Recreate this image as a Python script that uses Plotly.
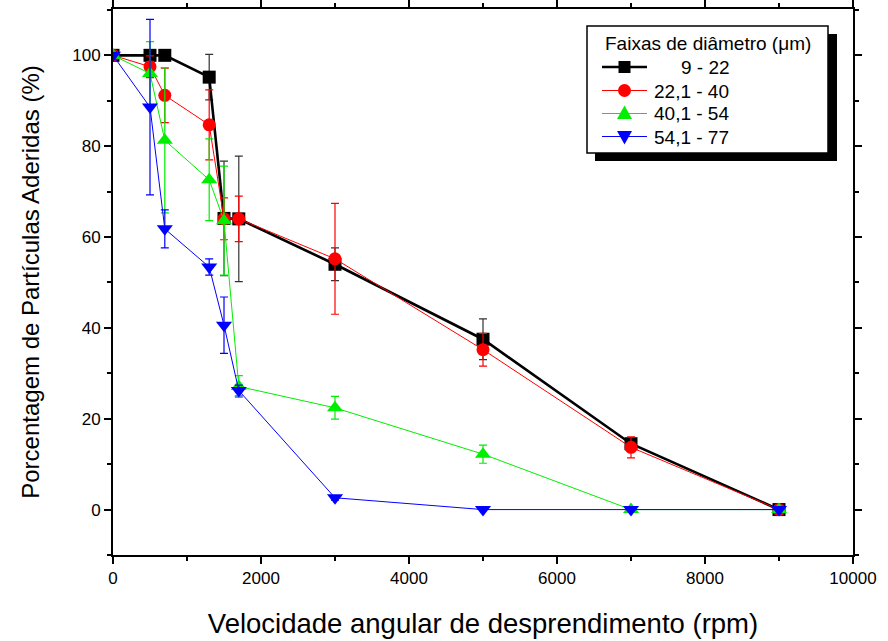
import plotly.graph_objects as go

rpm = [0, 500, 700, 1300, 1500, 1700, 3000, 5000, 7000, 9000]

labels = ["9 - 22", "22,1 - 40", "40,1 - 54", "54,1 - 77"]
legend_title = "Faixas de diâmetro (\u03bcm)"

y_9_22 = [100, 100, 100, 95.2, 64.1, 64.0, 54.0, 37.5, 14.5, 0]
e_9_22 = [0, 0, 0, 5.0, 12.6, 13.8, 3.6, 4.5, 1.0, 0]

y_22_40 = [100, 97.5, 91.2, 84.7, 64.0, 64.0, 55.2, 35.2, 13.7, 0]
e_22_40 = [0, 2.4, 6.0, 7.7, 4.6, 5.0, 12.2, 3.6, 2.3, 0]

y_40_54 = [100, 96.0, 81.3, 72.6, 63.6, 27.1, 22.4, 12.2, 0, 0]
e_40_54 = [0, 7.0, 16.0, 9.0, 12.0, 2.4, 2.5, 2.0, 0, 0]

y_54_77 = [100, 88.6, 61.8, 53.4, 40.6, 26.2, 2.6, 0, 0, 0]
e_54_77 = [0, 19.3, 4.2, 1.8, 6.2, 1.2, 0.5, 0, 0, 0]

series = [
    (labels[0], y_9_22, e_9_22, "#000000", "#333333", "square", 2.6, 13),
    (labels[1], y_22_40, e_22_40, "#ff0000", "#ff0000", "circle", 1, 13),
    (labels[2], y_40_54, e_40_54, "#00ee00", "#00ee00", "triangle-up", 1, 14),
    (labels[3], y_54_77, e_54_77, "#0000ff", "#0000ff", "triangle-down", 1, 14),
]

fig = go.Figure()
for name, ys, es, col, ecol, sym, lw, ms in series:
    fig.add_trace(go.Scatter(
        x=rpm, y=ys, name=name, mode="lines+markers",
        line=dict(color=col, width=lw),
        marker=dict(symbol=sym, size=ms, color=col),
        error_y=dict(type="data", array=es, visible=True, color=ecol,
                     thickness=1.2, width=4),
        showlegend=False,
    ))

L, R, T, B = 113, 35, 9, 86
W, H = 888, 641
pw, ph = W - L - R, H - T - B

def px(x):
    return (x - L) / pw

def py(y):
    return 1 - (y - T) / ph

font = "Liberation Sans, Arial, sans-serif"

# ---- custom legend box (with drop shadow) ----
shapes = []
annotations = []
shapes.append(dict(type="rect", xref="paper", yref="paper",
                   x0=px(595), x1=px(837), y0=py(161), y1=py(34),
                   fillcolor="black", line=dict(width=0), layer="above"))
shapes.append(dict(type="rect", xref="paper", yref="paper",
                   x0=px(587), x1=px(828), y0=py(153), y1=py(26),
                   fillcolor="white", line=dict(color="black", width=1.5), layer="above"))
annotations.append(dict(xref="paper", yref="paper", x=px(603), y=py(43.5),
                        xanchor="left", yanchor="middle", showarrow=False,
                        text=legend_title, font=dict(size=19, family=font, color="black")))

row_y = [67, 90.5, 113.5, 136.5]
text_x = [679, 652, 652, 652]
cx = 624.5
for (name, ys, es, col, ecol, sym, lw, ms), ry, tx in zip(series, row_y, text_x):
    shapes.append(dict(type="line", xref="paper", yref="paper",
                       x0=px(602), x1=px(647), y0=py(ry), y1=py(ry),
                       line=dict(color=col, width=lw), layer="above"))
    if sym == "square":
        shapes.append(dict(type="rect", xref="paper", yref="paper",
                           x0=px(cx - 6), x1=px(cx + 6), y0=py(ry + 6), y1=py(ry - 6),
                           fillcolor=col, line=dict(width=0), layer="above"))
    elif sym == "circle":
        shapes.append(dict(type="circle", xref="paper", yref="paper",
                           x0=px(cx - 6.5), x1=px(cx + 6.5), y0=py(ry + 6.5), y1=py(ry - 6.5),
                           fillcolor=col, line=dict(width=0), layer="above"))
    elif sym == "triangle-up":
        path = "M {},{} L {},{} L {},{} Z".format(
            px(cx - 7.5), py(ry + 5.5), px(cx + 7.5), py(ry + 5.5), px(cx), py(ry - 8))
        shapes.append(dict(type="path", xref="paper", yref="paper", path=path,
                           fillcolor=col, line=dict(width=0), layer="above"))
    else:
        path = "M {},{} L {},{} L {},{} Z".format(
            px(cx - 7.5), py(ry - 5.5), px(cx + 7.5), py(ry - 5.5), px(cx), py(ry + 8))
        shapes.append(dict(type="path", xref="paper", yref="paper", path=path,
                           fillcolor=col, line=dict(width=0), layer="above"))
    annotations.append(dict(xref="paper", yref="paper", x=px(tx), y=py(ry + 0.5),
                            xanchor="left", yanchor="middle", showarrow=False,
                            text=name, font=dict(size=19, family=font, color="black")))

fig.update_layout(
    width=W, height=H,
    margin=dict(l=L, r=R, t=T, b=B, autoexpand=False),
    paper_bgcolor="white", plot_bgcolor="white",
    font=dict(family=font, color="black", size=17),
    showlegend=False,
    shapes=shapes,
    annotations=annotations,
    xaxis=dict(
        range=[0, 10000], tickmode="array",
        tickvals=[0, 2000, 4000, 6000, 8000, 10000],
        ticktext=["0", "2000", "4000", "6000", "8000", "10000"],
        ticks="outside", ticklen=7, tickwidth=1.5, tickcolor="black",
        showline=True, linecolor="black", linewidth=2, mirror="ticks",
        showgrid=False, zeroline=False, automargin=False,
        minor=dict(dtick=1000, ticks="outside", ticklen=4, tickwidth=1.5, tickcolor="black"),
        tickfont=dict(size=17),
        title=dict(text="Velocidade angular de desprendimento (rpm)", font=dict(size=27.5), standoff=26),
    ),
    yaxis=dict(
        range=[-10, 110.2], tickmode="array",
        tickvals=[0, 20, 40, 60, 80, 100],
        ticks="outside", ticklen=7, tickwidth=1.5, tickcolor="black",
        showline=True, linecolor="black", linewidth=2, mirror="ticks",
        showgrid=False, zeroline=False, automargin=False,
        minor=dict(tickvals=[-10, 10, 30, 50, 70, 90, 110], ticks="outside", ticklen=4, tickwidth=1.5, tickcolor="black"),
        tickfont=dict(size=17),
        title=dict(text="Porcentagem de Partículas Aderidas (%)", font=dict(size=24), standoff=26),
    ),
)

fig.write_html("out.html")
